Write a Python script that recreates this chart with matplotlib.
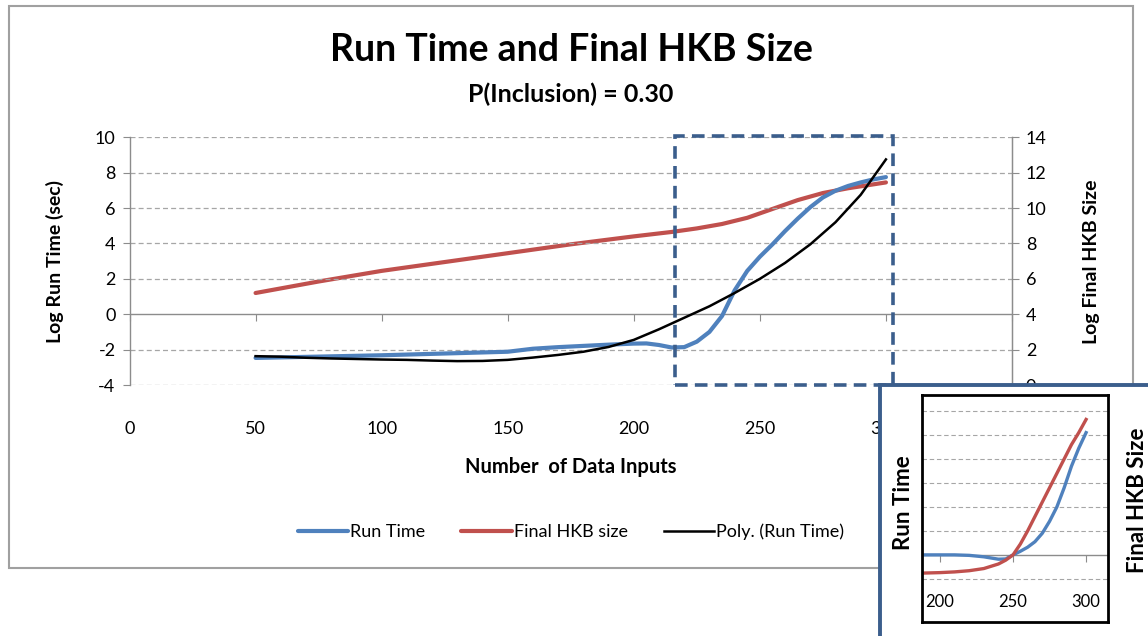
import numpy as np
import matplotlib
matplotlib.use("Agg")
import matplotlib.pyplot as plt
from matplotlib.patches import Rectangle

plt.rcParams['font.family'] = ['Lato', 'DejaVu Sans']
plt.rcParams['axes.unicode_minus'] = False

# main chart data (left axis: log run time, right axis: log final HKB size)
run_x = [50, 60, 70, 80, 90, 100, 110, 120, 130, 140, 150, 160, 170, 180, 190, 200, 205,
         210, 215, 220, 225, 230, 235, 240, 245, 250, 255, 260, 265, 270, 275, 280, 285,
         290, 295, 300]
run_time = [-2.47, -2.44, -2.41, -2.38, -2.35, -2.32, -2.28, -2.24, -2.2, -2.16, -2.12,
            -1.95, -1.86, -1.79, -1.72, -1.66, -1.65, -1.74, -1.88, -1.86, -1.55, -1.0,
            -0.1, 1.35, 2.45, 3.25, 3.95, 4.7, 5.4, 6.05, 6.6, 6.98, 7.25, 7.45, 7.62, 7.75]

hkb_x = [50, 75, 100, 125, 150, 175, 200, 215, 225, 235, 245, 255, 265, 275, 285, 300]
hkb_size = [5.2, 5.85, 6.45, 6.95, 7.45, 7.95, 8.4, 8.65, 8.85, 9.1, 9.45, 9.95, 10.45,
            10.85, 11.12, 11.45]

poly_x = [50, 60, 70, 80, 90, 100, 110, 120, 130, 140, 150, 160, 170, 180, 190, 200,
          210, 220, 230, 240, 250, 260, 270, 280, 290, 300]
poly_run = [-2.37, -2.4, -2.46, -2.5, -2.53, -2.56, -2.58, -2.62, -2.65, -2.64, -2.58,
            -2.45, -2.3, -2.12, -1.85, -1.45, -0.85, -0.2, 0.45, 1.2, 2.0, 2.9, 3.95,
            5.2, 6.75, 8.75]

x_ticks = [0, 50, 100, 150, 200, 250, 300, 350]
left_ticks = [-4, -2, 0, 2, 4, 6, 8, 10]
right_ticks = [0, 2, 4, 6, 8, 10, 12, 14]

# inset (zoom of 200-300, relative scale)
ins_x = [188, 200, 210, 220, 230, 240, 245, 250, 255, 260, 265, 270, 275, 280, 285, 290,
         295, 300]
ins_run = [0.0, 0.0, 0.0, -0.02, -0.08, -0.18, -0.17, 0.0, 0.15, 0.32, 0.55, 0.9, 1.4,
           2.0, 2.8, 3.7, 4.45, 5.1]
ins_hkb = [-0.76, -0.74, -0.71, -0.66, -0.57, -0.38, -0.22, 0.0, 0.45, 1.0, 1.6, 2.2, 2.8,
           3.4, 4.0, 4.6, 5.1, 5.65]
ins_ticks = [200, 250, 300]

BLUE = '#4F81BD'
RED = '#C0504D'
GRAY = '#8C8C8C'
GRID = '#A6A6A6'
FRAME = '#3B5E8C'

W, H = 1148, 636
fig = plt.figure(figsize=(W / 100, H / 100), dpi=100)


def fx(px):
    return px / W


def fy(py):
    return 1 - py / H


# outer chart frame
fig.patches.append(Rectangle((fx(8.5), fy(568)), fx(1132.5 - 8.5), (568 - 5.5) / H,
                             transform=fig.transFigure, fill=False, ec='#A0A0A0', lw=1.5))

ax = fig.add_axes([fx(129.5), fy(385), fx(1012 - 129.5), (385 - 137.3) / H])
ax.set_xlim(0, 350)
ax.set_ylim(-4, 10)
for s in ['top', 'bottom']:
    ax.spines[s].set_visible(False)
for s in ['left', 'right']:
    ax.spines[s].set_color(GRAY)
    ax.spines[s].set_linewidth(1.0)
ax.set_yticks(left_ticks)
ax.set_xticks(x_ticks)
ax.tick_params(axis='y', colors=GRAY, labelcolor='black', labelsize=13, length=5, pad=5)
ax.tick_params(axis='x', length=0, labelsize=13, pad=26)
for t in left_ticks:
    if t != 0:
        ax.axhline(t, color=GRID, lw=0.9, ls=(0, (4, 2.5)), zorder=0)
ax.axhline(0, color=GRAY, lw=1.0, zorder=0)

sec = ax.secondary_xaxis(4 / 14)
sec.set_xticks(x_ticks)
sec.tick_params(length=5, color=GRAY, labelbottom=False)
sec.spines['bottom'].set_visible(False)

l_run, = ax.plot(run_x, run_time, color=BLUE, lw=3.0, solid_capstyle='round',
                 label='Run Time', zorder=3)
l_poly, = ax.plot(poly_x, poly_run, color='black', lw=1.8, label='Poly. (Run Time)', zorder=4)

ax2 = ax.twinx()
ax2.set_ylim(0, 14)
ax2.set_yticks(right_ticks)
for s in ['top', 'bottom', 'left']:
    ax2.spines[s].set_visible(False)
ax2.spines['right'].set_color(GRAY)
ax2.tick_params(axis='y', colors=GRAY, labelcolor='black', labelsize=13, length=5, pad=5)
l_hkb, = ax2.plot(hkb_x, hkb_size, color=RED, lw=3.0, solid_capstyle='round',
                  label='Final HKB size', zorder=2)
ax.set_zorder(ax2.get_zorder() + 1)
ax.patch.set_visible(False)

# highlight box around 216-304
ax.add_patch(Rectangle((216.3, -3.98), 86.5, 14.08, fill=False, ec=FRAME, lw=2.6,
                       ls=(0, (3.5, 2)), clip_on=False, zorder=6))

fig.text(fx(571), fy(50), 'Run Time and Final HKB Size', ha='center', va='center',
         fontsize=27, fontweight='bold')
fig.text(fx(571), fy(94), 'P(Inclusion) = 0.30', ha='center', va='center',
         fontsize=18, fontweight='bold')
fig.text(fx(55), fy(261), 'Log Run Time (sec)', rotation=90, ha='center', va='center',
         fontsize=14, fontweight='bold')
fig.text(fx(1091), fy(262), 'Log Final HKB Size', rotation=90, ha='center', va='center',
         fontsize=14, fontweight='bold')
fig.text(fx(571), fy(467), 'Number  of Data Inputs', ha='center', va='center',
         fontsize=14.5, fontweight='bold')

handles = [l_run, l_hkb, l_poly]
fig.legend(handles, [h.get_label() for h in handles], loc='center', ncol=3,
           bbox_to_anchor=(fx(571), fy(532)), frameon=False, fontsize=13,
           handlelength=2.8, handletextpad=0.1, columnspacing=2.0)

# inset panel
fig.patches.append(Rectangle((fx(880), -0.05), fx(300), fy(385) + 0.05,
                             transform=fig.transFigure, fc='white', ec=FRAME, lw=2.8,
                             zorder=10))
ins = fig.add_axes([fx(922), fy(622), fx(1108 - 922), (622 - 395) / H], zorder=11)
ins.set_xlim(187.7, 315)
ins.set_ylim(-2.8, 6.67)
for s in ins.spines.values():
    s.set_color('black')
    s.set_linewidth(2.0)
for g in [-1, 1, 2, 3, 4, 5, 6]:
    ins.axhline(g, color=GRID, lw=0.8, ls=(0, (4, 2.5)), zorder=0)
ins.axhline(0, color=GRAY, lw=1.0, zorder=0)
ins.set_yticks([])
ins.set_xticks(ins_ticks)
ins.tick_params(axis='x', length=0, labelsize=12, pad=-20)
isec = ins.secondary_xaxis(2.8 / 9.47)
isec.set_xticks(ins_ticks)
isec.tick_params(length=5, color=GRAY, labelbottom=False)
isec.spines['bottom'].set_visible(False)
ins.plot(ins_x, ins_run, color=BLUE, lw=2.4)
ins.plot(ins_x, ins_hkb, color=RED, lw=2.4)
fig.text(fx(903), fy(503), 'Run Time', rotation=90, ha='center', va='center',
         fontsize=16, fontweight='bold', zorder=12)
fig.text(fx(1137), fy(500), 'Final HKB Size', rotation=90, ha='center', va='center',
         fontsize=16, fontweight='bold', zorder=12)

fig.savefig('out.png', dpi=100)
